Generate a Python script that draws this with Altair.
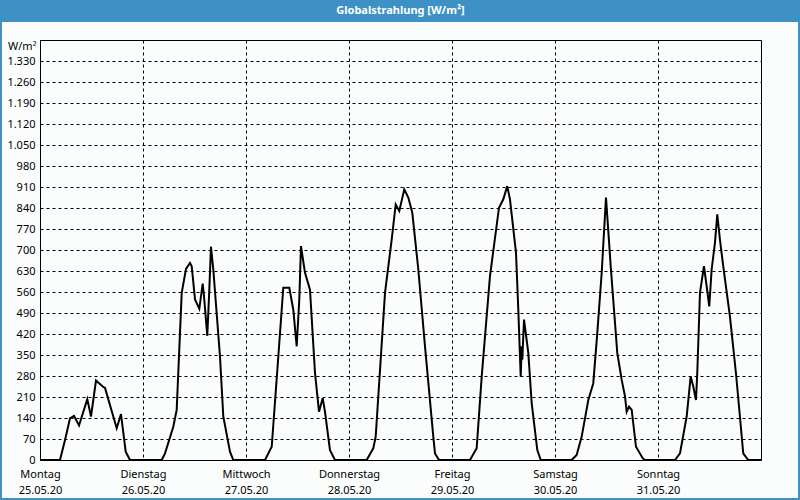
import altair as alt
import pandas as pd

# ---- data (hours since Mon 25.05.20 00:00, W/m²) ----
day_names = ["Montag", "Dienstag", "Mittwoch", "Donnerstag", "Freitag", "Samstag", "Sonntag"]
day_dates = ["25.05.20", "26.05.20", "27.05.20", "28.05.20", "29.05.20", "30.05.20", "31.05.20"]
y_ticks = list(range(0, 1331, 70))

mon_h = [0, 4.66, 5.83, 6.99, 7.92, 9.09, 11.02, 11.88, 13.05, 14.61, 15.15, 17.87, 18.87, 19.97, 20.97]
mon_v = [0, 0, 67, 139, 147, 115, 203, 145, 265, 245, 240, 106, 153, 28, 0]

tue_h = [28.36, 29.13, 31.06, 31.85, 33.02, 34.02, 34.95, 35.35, 36.12, 37.12, 37.91, 38.21, 38.98, 39.45, 39.84, 40.38, 41.94, 42.71, 44.27, 45.04]
tue_v = [0, 22, 111, 167, 557, 637, 657, 646, 535, 504, 588, 546, 414, 568, 711, 635, 345, 145, 28, 0]

wed_h = [52.43, 53.99, 55.53, 56.69, 58.09, 59.02, 59.81, 60.42, 60.81, 61.75, 62.91, 64.08, 65.01, 65.87, 66.40, 67.57, 68.73]
wed_v = [0, 44, 345, 574, 574, 501, 379, 535, 713, 624, 568, 290, 161, 206, 161, 33, 0]

thu_h = [76.12, 77.66, 78.22, 80.39, 81.95, 82.88, 83.72, 84.88, 85.82, 86.75, 88.15, 89.71, 91.64, 92.04, 92.97]
thu_v = [0, 39, 78, 557, 735, 852, 830, 902, 875, 824, 635, 379, 78, 22, 0]

fri_h = [100.19, 101.75, 102.92, 104.85, 106.95, 107.95, 108.88, 109.51, 110.91, 111.45, 112.01, 112.24, 112.38, 112.78, 113.78, 114.57, 115.88, 116.67]
fri_v = [0, 39, 278, 613, 841, 869, 913, 869, 691, 501, 278, 379, 334, 468, 357, 189, 33, 0]

sat_h = [123.89, 125.05, 126.22, 127.76, 128.92, 129.85, 130.88, 131.88, 132.18, 132.98, 134.51, 135.54, 136.31, 136.70, 137.24, 137.87, 138.87, 140.43, 140.97]
sat_v = [0, 17, 78, 200, 256, 423, 624, 875, 813, 646, 357, 267, 212, 161, 178, 167, 44, 6, 0]

sun_h = [147.96, 149.12, 150.68, 151.61, 152.22, 152.85, 153.15, 153.78, 154.71, 155.34, 155.94, 156.50, 157.27, 157.81, 158.43, 159.20, 160.76, 162.16, 163.09, 163.86, 165.02, 168]
sun_v = [0, 22, 145, 278, 245, 200, 290, 557, 646, 579, 512, 635, 724, 819, 735, 646, 479, 290, 145, 22, 0, 0]

hours = mon_h + tue_h + wed_h + thu_h + fri_h + sat_h + sun_h
values = mon_v + tue_v + wed_v + thu_v + fri_v + sat_v + sun_v
df = pd.DataFrame({"h": hours, "v": values})

W, H = 721, 420
FONT = "Noto Sans"
BLUE = "#3d91c5"
BG = "#fbfdfc"

label_arr = "[" + ",".join(f"['{n}','{d}']" for n, d in zip(day_names, day_dates)) + "]"

one = alt.Data(values=[{"k": 1}])

title_bar = alt.Chart(one).mark_rect(fill=BLUE).encode(
    x=alt.value(-40), x2=alt.value(W + 39), y=alt.value(-40), y2=alt.value(-18)
)
border = alt.Chart(one).mark_rect(fillOpacity=0, stroke=BLUE, strokeWidth=2).encode(
    x=alt.value(-39), x2=alt.value(W + 38), y=alt.value(-39), y2=alt.value(H + 39)
)
title_text = alt.Chart(one).mark_text(
    text="Globalstrahlung [W/m²]", font=FONT, fontSize=11, fontWeight="bold",
    color="white", align="center", baseline="middle"
).encode(x=alt.value(W / 2), y=alt.value(-29))

line = alt.Chart(df).mark_line(color="black", strokeWidth=2).encode(
    x=alt.X("h:Q", scale=alt.Scale(domain=[0, 168], nice=False, zero=False),
            axis=alt.Axis(values=[0, 24, 48, 72, 96, 120, 144],
                          labelExpr=f"{label_arr}[round(datum.value/24)]",
                          title=None, grid=True, gridDash=[3, 3], gridColor="black",
                          gridOpacity=1, labelAlign="center", labelBaseline="top",
                          labelPadding=8, labelLineHeight=16, labelFlush=False,
                          labelOverlap=False, labelBound=False)),
    y=alt.Y("v:Q", scale=alt.Scale(domain=[0, 1400], nice=False),
            axis=alt.Axis(values=y_ticks,
                          labelExpr="replace(format(datum.value, ','), ',', '.')",
                          grid=True, gridDash=[3, 3], gridColor="black", gridOpacity=1,
                          title="W/m²", titleAngle=0, titleAlign="right",
                          titleBaseline="middle", titleX=-4, titleY=6,
                          titleFont=FONT, titleFontSize=11, titleFontWeight="normal",
                          titleColor="black", labelPadding=5, labelOverlap=False)),
)

chart = alt.layer(title_bar, border, title_text, line).properties(
    width=W, height=H,
    autosize=alt.AutoSizeParams(type="none"),
    padding={"left": 40, "top": 40, "right": 39, "bottom": 40},
    background=BG,
).configure_view(stroke="black", strokeWidth=1).configure_axis(
    domain=False, ticks=False, labelFont=FONT, labelFontSize=11, labelColor="black"
)

chart.save("out.html", embed_options={"renderer": "svg", "actions": False})
